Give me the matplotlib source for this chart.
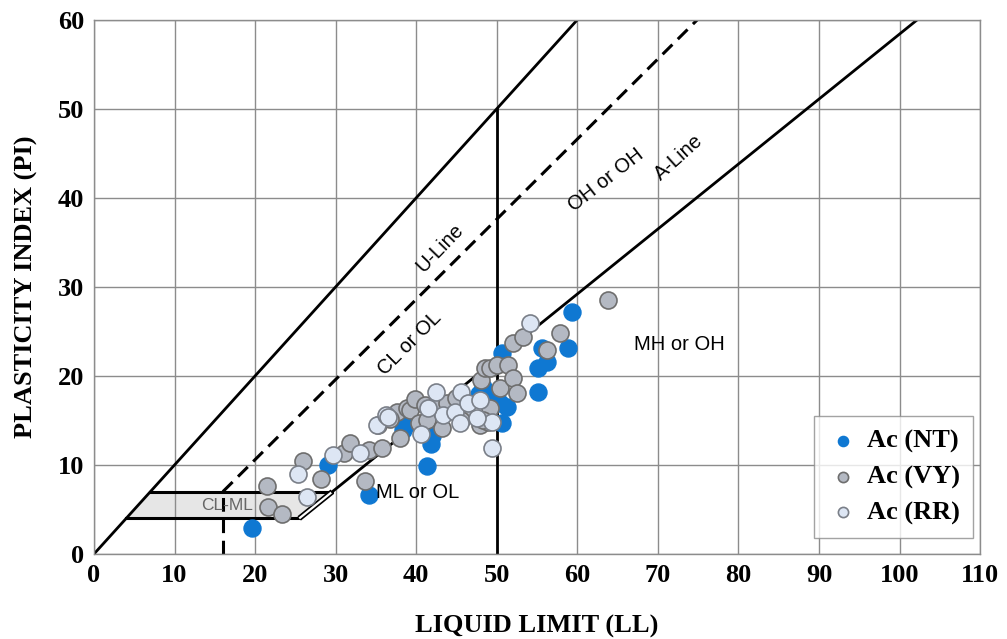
import numpy as np
import matplotlib.pyplot as plt
from matplotlib.patches import Polygon

# Atterberg limits for each source (LL, PI)
nt_ll = [19.6, 29.0, 34.2, 38.4, 38.9, 41.4, 41.9, 42.0, 47.8, 48.3, 49.6, 50.4, 50.6,
         50.7, 51.3, 55.1, 55.1, 55.6, 56.2, 58.8, 59.4, 44.5]
nt_pi = [2.9, 10.0, 6.6, 13.9, 14.6, 9.9, 12.4, 13.3, 18.0, 18.8, 17.6, 17.0, 14.7,
         22.6, 16.5, 18.2, 20.9, 23.1, 21.6, 23.1, 27.2, 16.8]

vy_ll = [21.5, 21.6, 23.4, 25.9, 28.2, 31.1, 31.8, 33.6, 34.2, 35.7, 35.2, 37.6, 38.0,
         38.8, 39.2, 39.8, 40.4, 41.1, 41.3, 42.6, 43.2, 43.8, 46.3, 47.9, 48.1, 48.5,
         48.9, 49.1, 49.1, 50.0, 50.4, 51.4, 52.0, 52.0, 52.5, 53.2, 56.2, 57.9, 63.8,
         48.3, 36.8, 44.9, 45.5]
vy_pi = [7.6, 5.3, 4.5, 10.5, 8.4, 11.3, 12.5, 8.2, 11.7, 11.9, 14.5, 16.0, 13.0,
         16.4, 16.2, 17.4, 14.7, 16.7, 15.1, 17.1, 14.2, 17.0, 15.6, 14.5, 19.6, 20.9,
         14.8, 16.4, 20.9, 21.2, 18.7, 21.2, 19.8, 23.7, 18.1, 24.4, 22.9, 24.8, 28.5,
         15.1, 15.2, 17.5, 15.1]

rr_ll = [26.4, 25.3, 29.7, 33.0, 35.1, 36.3, 36.5, 43.3, 44.8, 45.4, 45.6, 46.4, 47.9,
         49.4, 49.4, 54.1, 41.5, 40.6, 47.5, 42.5]
rr_pi = [6.4, 9.0, 11.1, 11.4, 14.5, 15.6, 15.4, 15.6, 16.0, 14.7, 18.2, 17.0, 17.3,
         14.8, 11.9, 26.0, 16.4, 13.5, 15.3, 18.2]

serif = "Liberation Serif"
sans = "Liberation Sans"

fig = plt.figure(figsize=(10.07, 6.39), dpi=100)
ax = fig.add_axes([0.0933, 0.133, 0.880, 0.836])
ax.set_xlim(0, 110)
ax.set_ylim(0, 60)
ax.set_xticks(np.arange(0, 111, 10))
ax.set_yticks(np.arange(0, 61, 10))
ax.grid(True, color="#8c8c8c", lw=1.0, zorder=0)
for s in ax.spines.values():
    s.set_color("#8c8c8c")
    s.set_linewidth(1.0)
ax.tick_params(length=0, pad=7)
for lab in ax.get_xticklabels() + ax.get_yticklabels():
    lab.set_fontfamily(serif)
    lab.set_fontweight("bold")
    lab.set_fontsize(19)
ax.set_xlabel("LIQUID LIMIT (LL)", fontfamily=serif, fontweight="bold", fontsize=19, labelpad=20)
ax.set_ylabel("PLASTICITY INDEX (PI)", fontfamily=serif, fontweight="bold", fontsize=19, labelpad=14)

# CL-ML zone
zone = Polygon([(4, 4), (25.48, 4), (29.59, 7), (7, 7)], closed=True,
               facecolor="#e6e6e6", edgecolor="none", zorder=1)
ax.add_patch(zone)
ax.plot([4, 25.48], [4, 4], color="black", lw=2.2, zorder=2)
ax.plot([7, 29.59], [7, 7], color="black", lw=2.2, zorder=2)
ax.plot([25.48, 29.59], [4, 7], color="black", lw=4.0, zorder=2, solid_capstyle="butt")
ax.plot([25.48, 29.59], [4, 7], color="white", lw=1.6, zorder=2, solid_capstyle="butt")

# classification lines
ax.plot([0, 60], [0, 60], color="black", lw=2, zorder=2)
ax.plot([16, 16 + 60 / 0.9 - 7 / 0.9], [7, 60], color="black", lw=2.2, ls=(0, (4.5, 2.5)), zorder=2)
ax.plot([16, 16], [0, 7], color="black", lw=2.2, ls=(0, (4.5, 2.5)), zorder=2)
ax.plot([29.59, 20 + 60 / 0.73], [7, 60], color="black", lw=2, zorder=2)
ax.plot([50, 50], [0, 50], color="black", lw=2, zorder=2)

# zone labels
fs = 14.5
ax.text(42.9, 34.4, "U-Line", fontfamily=sans, fontsize=fs, rotation=46, ha="center", va="center", zorder=3)
ax.text(39.2, 23.7, "CL or OL", fontfamily=sans, fontsize=fs, rotation=45, ha="center", va="center", zorder=3)
ax.text(63.6, 42.0, "OH or OH", fontfamily=sans, fontsize=fs, rotation=38, ha="center", va="center", zorder=3)
ax.text(72.6, 44.5, "A-Line", fontfamily=sans, fontsize=fs, rotation=42, ha="center", va="center", zorder=3)
ax.text(72.7, 23.5, "MH or OH", fontfamily=sans, fontsize=fs, ha="center", va="center", zorder=3)
ax.text(40.2, 6.9, "ML or OL", fontfamily=sans, fontsize=fs, ha="center", va="center", zorder=6)
ax.text(16.5, 5.4, "CL-ML", fontfamily=sans, fontsize=12.5, color="#666666", ha="center", va="center", zorder=3)

ax.scatter(nt_ll, nt_pi, s=150, color="#0f78d2", edgecolors="#0f78d2", lw=1.0, zorder=4, label="Ac (NT)")
ax.scatter(vy_ll, vy_pi, s=150, color="#b4b9c3", edgecolors="#6e6e6e", lw=1.2, zorder=5, label="Ac (VY)")
ax.scatter(rr_ll, rr_pi, s=150, color="#dde6f4", edgecolors="#7a7f88", lw=1.2, zorder=5, label="Ac (RR)")

leg = ax.legend(loc="lower right", bbox_to_anchor=(0.992, 0.03), borderaxespad=0, markerscale=0.6,
                prop={"family": serif, "weight": "bold", "size": 19}, frameon=True,
                fancybox=False, edgecolor="#8c8c8c", handletextpad=0.3, borderpad=0.5,
                labelspacing=0.45, handlelength=1.2)
leg.get_frame().set_linewidth(1.0)
leg.set_zorder(10)

fig.savefig("out.png", dpi=100)
